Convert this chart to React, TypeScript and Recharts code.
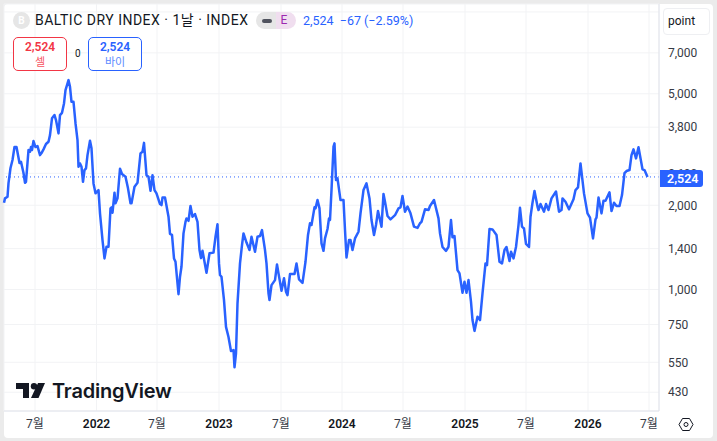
import React from 'react';
import { LineChart, Line, XAxis, YAxis, CartesianGrid, ReferenceLine } from 'recharts';

// position of each reading, counted in trading sessions from the left edge
const sessions = [
  0, 2, 7, 9, 13, 17, 21, 25, 31, 34, 39, 42, 44, 49, 52, 54, 56, 59, 63, 67, 72, 75, 79, 84, 89, 92, 96, 101, 104, 109,
  112, 116, 120, 123, 129, 132, 135, 139, 143, 147, 149, 152, 155, 158, 161, 164, 167, 172, 175, 179, 183, 189, 192,
  197, 201, 205, 209, 213, 215, 217, 221, 223, 227, 232, 236, 243, 248, 253, 255, 261, 267, 273, 277, 280, 285, 289,
  293, 297, 301, 305, 312, 315, 317, 322, 329, 332, 336, 340, 343, 349, 352, 355, 359, 363, 365, 369, 373, 377, 382,
  387, 391, 394, 397, 405, 411, 419, 423, 427, 430, 432, 435, 440, 444, 449, 454, 459, 461, 464, 467, 472, 476, 479,
  485, 491, 495, 502, 507, 512, 516, 522, 525, 529, 531, 535, 542, 546, 549, 555, 560, 564, 567, 572, 581, 585, 590,
  597, 603, 608, 612, 615, 621, 623, 627, 631, 635, 639, 642, 647, 650, 652, 655, 659, 661, 664, 667, 673, 679, 682,
  685, 690, 693, 697, 702, 709, 713, 719, 725, 731, 735, 740, 744, 748, 755, 759, 762, 767, 773, 782, 789, 793, 797,
  802, 807, 813, 820, 827, 832, 835, 842, 849, 852, 860, 869, 872, 877, 884, 889, 894, 897, 901, 907, 911, 917, 921,
  925, 929, 934, 937, 941, 947, 952, 957, 963, 966, 971, 977, 985, 991, 996, 1001, 1005, 1011, 1014, 1019, 1024, 1029,
  1032, 1036, 1040, 1044, 1050, 1053, 1057, 1061, 1067, 1069, 1073, 1080, 1084, 1089, 1095, 1104, 1110, 1115, 1117,
  1123, 1130, 1139, 1143, 1148, 1153, 1160, 1167, 1172, 1178, 1183, 1185, 1189, 1195, 1199, 1203, 1211, 1215, 1220,
  1225, 1231, 1236, 1241, 1245, 1251, 1255, 1259, 1264, 1269, 1277, 1281, 1287,
];

const closes = [
  2041, 2116, 2144, 2400, 2716, 2900, 3228, 3228, 2829, 2860, 2606, 2406, 2426, 3149, 3105, 3228, 3149, 3391, 3228,
  3254, 3020, 3071, 3167, 3308, 3371, 3560, 4087, 4198, 4030, 3611, 4198, 4276, 4620, 5156, 5597, 5298, 4681, 4681,
  3925, 3419, 2745, 2820, 2745, 2426, 2671, 2709, 3020, 3400, 3193, 2394, 2206, 2266, 1871, 1502, 1292, 1422, 1422,
  1950, 1966, 1881, 2217, 2032, 2116, 2700, 2585, 2529, 2298, 2032, 2032, 2330, 2406, 3063, 3105, 3340, 2560, 2529,
  2253, 2560, 2266, 2205, 2020, 2003, 2130, 2130, 1820, 1580, 1567, 1292, 1257, 963, 1111, 1209, 1587, 1745, 1795,
  1760, 1988, 1820, 1861, 1745, 1384, 1295, 1375, 1148, 1347, 1355, 1543, 1710, 1240, 1127, 1111, 917, 736, 677, 603,
  608, 528, 592, 893, 1240, 1442, 1587, 1472, 1384, 1543, 1365, 1543, 1553, 1631, 1384, 1240, 969, 917, 1037, 1081,
  1230, 1142, 990, 1097, 982, 955, 1136, 1136, 1240, 1088, 1057, 1257, 1567, 1725, 1700, 1966, 1950, 2087, 1950, 1462,
  1375, 1523, 1645, 1795, 1771, 2266, 3236, 3326, 2460, 2495, 2087, 2087, 1631, 1302, 1502, 1502, 1384, 1523, 1609,
  1871, 2266, 2394, 2116, 1771, 1567, 1700, 1907, 1677, 2196, 2058, 1831, 1781, 1843, 1950, 1966, 2157, 1897, 1978,
  1871, 1677, 1660, 1725, 1745, 1934, 1923, 1988, 2087, 1795, 1587, 1419, 1375, 1422, 1771, 1536, 1553, 1174, 1142,
  974, 1066, 974, 1081, 903, 778, 712, 800, 778, 969, 1240, 1223, 1645, 1640, 1567, 1257, 1240, 1384, 1419, 1265, 1365,
  1292, 1419, 1700, 1958, 1677, 1652, 1455, 1419, 1820, 2041, 2248, 1978, 1923, 2020, 1897, 2020, 1923, 2116, 2240,
  1897, 1923, 2116, 2058, 1934, 2100, 2266, 2316, 2820, 2205, 1871, 1807, 1523, 1781, 1807, 2130, 1871, 2075, 2075,
  2225, 1907, 2041, 1988, 1988, 2175, 2604, 2650, 2671, 3020, 3167, 2940, 3220, 2687, 2671, 2524,
];

const priceTicks = [430, 550, 750, 1000, 1400, 2000, 2600, 3800, 5000, 7000];
const timeTicks = [62, 185, 306, 430, 554, 676, 798, 922, 1044, 1168, 1290];
const timeLabels = ['7월', '2022', '7월', '2023', '7월', '2024', '7월', '2025', '7월', '2026', '7월'];

const lastPrice = 2524;
const topGridPrice = 9800; // its label is hidden behind the unit button
const BLUE = '#2962ff';
const GRID = '#f2f3f5';
const FONT = 'Roboto, "Noto Sans CJK KR", sans-serif';

const rows = sessions.map((s, i) => ({ session: s, close: closes[i] }));

function TimeTick({ x, y, payload }: any) {
  const label = timeLabels[timeTicks.indexOf(payload.value)];
  const isYear = label && label.length === 4;
  return (
    <text x={x} y={y + 9} textAnchor="middle" fontSize={12} fontFamily={FONT}
      fontWeight={isYear ? 600 : 400} fill={isYear ? '#131722' : '#363a45'}>
      {label}
    </text>
  );
}

const abs = (left: number, top: number, extra: React.CSSProperties = {}): React.CSSProperties => ({
  position: 'absolute', left, top, whiteSpace: 'nowrap', ...extra,
});

function TradeBox({ left, color, soft, label }: { left: number; color: string; soft: string; label: string }) {
  return (
    <div style={abs(left, 37, {
      width: 52, height: 30, border: `1px solid ${color}`, borderRadius: 5, background: '#fff',
      textAlign: 'center', color, lineHeight: '15px', paddingTop: 2,
    })}>
      <div style={{ fontSize: 12, fontWeight: 600 }}>2,524</div>
      <div style={{ fontSize: 11, color: soft }}>{label}</div>
    </div>
  );
}

export default function App() {
  return (
    <div style={{ position: 'absolute', left: 0, top: 0, width: 717, height: 441, background: '#ebebeb', overflow: 'hidden', fontFamily: FONT }}>
      <div style={abs(4, 4, { width: 709, height: 434, background: '#fff', borderRadius: 4 })} />

      <div style={abs(0, 0)}>
        <LineChart width={717} height={441} data={rows} margin={{ top: 4, right: 0, bottom: 0, left: 4 }}>
          <CartesianGrid stroke={GRID} />
          <XAxis dataKey="session" type="number" domain={[0, 1310]} ticks={timeTicks} interval={0}
            height={30} tickLine={false} axisLine={{ stroke: '#e0e3eb' }} tick={<TimeTick />} />
          <YAxis orientation="right" scale="log" domain={[368.5, 10461]} allowDataOverflow ticks={priceTicks}
            interval={0} width={58} tickSize={0} tickMargin={9} axisLine={{ stroke: '#e0e3eb' }}
            tickFormatter={(v: number) => v.toLocaleString('en-US')}
            tick={{ fontSize: 12, fill: '#363a45', fontFamily: FONT, textAnchor: 'start' }} />
          <ReferenceLine y={topGridPrice} stroke={GRID} />
          <ReferenceLine y={lastPrice} stroke={BLUE} strokeDasharray="1 3" />
          <Line dataKey="close" type="linear" stroke={BLUE} strokeWidth={2.5} strokeLinejoin="round" dot={false} isAnimationActive={false} />
        </LineChart>
      </div>

      {/* last price tag, sits over the axis labels */}
      <div style={abs(660, 170, { width: 43, height: 17, background: BLUE, borderRadius: '0 3px 3px 0', color: '#fff', fontSize: 12.5, fontWeight: 600, lineHeight: '17px', textIndent: 7 })}>2,524</div>

      {/* header */}
      <div style={abs(13, 12, { width: 17, height: 17, borderRadius: 9, background: '#e6e6e6', color: '#fff', fontSize: 10, fontWeight: 700, textAlign: 'center', lineHeight: '17px' })}>B</div>
      <div style={abs(35, 11, { fontSize: 14, color: '#131722', lineHeight: '19px', letterSpacing: 0.5 })}>BALTIC DRY INDEX · 1날 · INDEX</div>
      <div style={abs(256, 12, { width: 20, height: 17, background: '#e6e6e6', borderRadius: '9px 0 0 9px' })} />
      <div style={abs(262, 19, { width: 10, height: 4, background: '#50535e', borderRadius: 2 })} />
      <div style={abs(276, 12, { width: 20, height: 17, background: '#f0deef', borderRadius: '0 9px 9px 0', color: '#9c27b0', fontSize: 12, textAlign: 'center', lineHeight: '17px', paddingRight: 4, boxSizing: 'border-box' })}>E</div>
      <div style={abs(303, 12, { fontSize: 12.5, color: BLUE, lineHeight: '18px' })}>2,524&nbsp; −67 (−2.59%)</div>
      <TradeBox left={13} color="#f23645" soft="#f7525f" label="셀" />
      <div style={abs(75, 47, { fontSize: 10, color: '#131722', lineHeight: '14px' })}>0</div>
      <TradeBox left={88} color={BLUE} soft="#5b8aff" label="바이" />

      {/* unit button */}
      <div style={abs(663, 8, { width: 45, height: 25, border: '1px solid #eeeff2', borderRadius: 4, background: '#fff', fontSize: 12, lineHeight: '25px', color: '#131722', textIndent: 4 })}>point</div>

      {/* logo */}
      <svg style={abs(16, 383)} width={160} height={24}>
        <path d="M0 0h13v15h-6v-9h-7z" fill="#131722" />
        <circle cx="18" cy="3.2" r="3.2" fill="#131722" />
        <path d="M22 0h7l-6.5 15h-7.5z" fill="#131722" />
      </svg>
      <div style={abs(52, 378, { fontFamily: 'Inter, sans-serif', fontSize: 20, fontWeight: 600, color: '#131722', lineHeight: '26px', letterSpacing: -0.2 })}>TradingView</div>

      {/* settings icon */}
      <svg style={abs(678, 417)} width={16} height={15} fill="none" stroke="#131722" strokeWidth={1}>
        <path d="M1 7.5L4.5 1.5h7L15 7.5l-3.500 6h-7z" />
        <circle cx="8" cy="7.500" r="2" />
      </svg>
    </div>
  );
}
